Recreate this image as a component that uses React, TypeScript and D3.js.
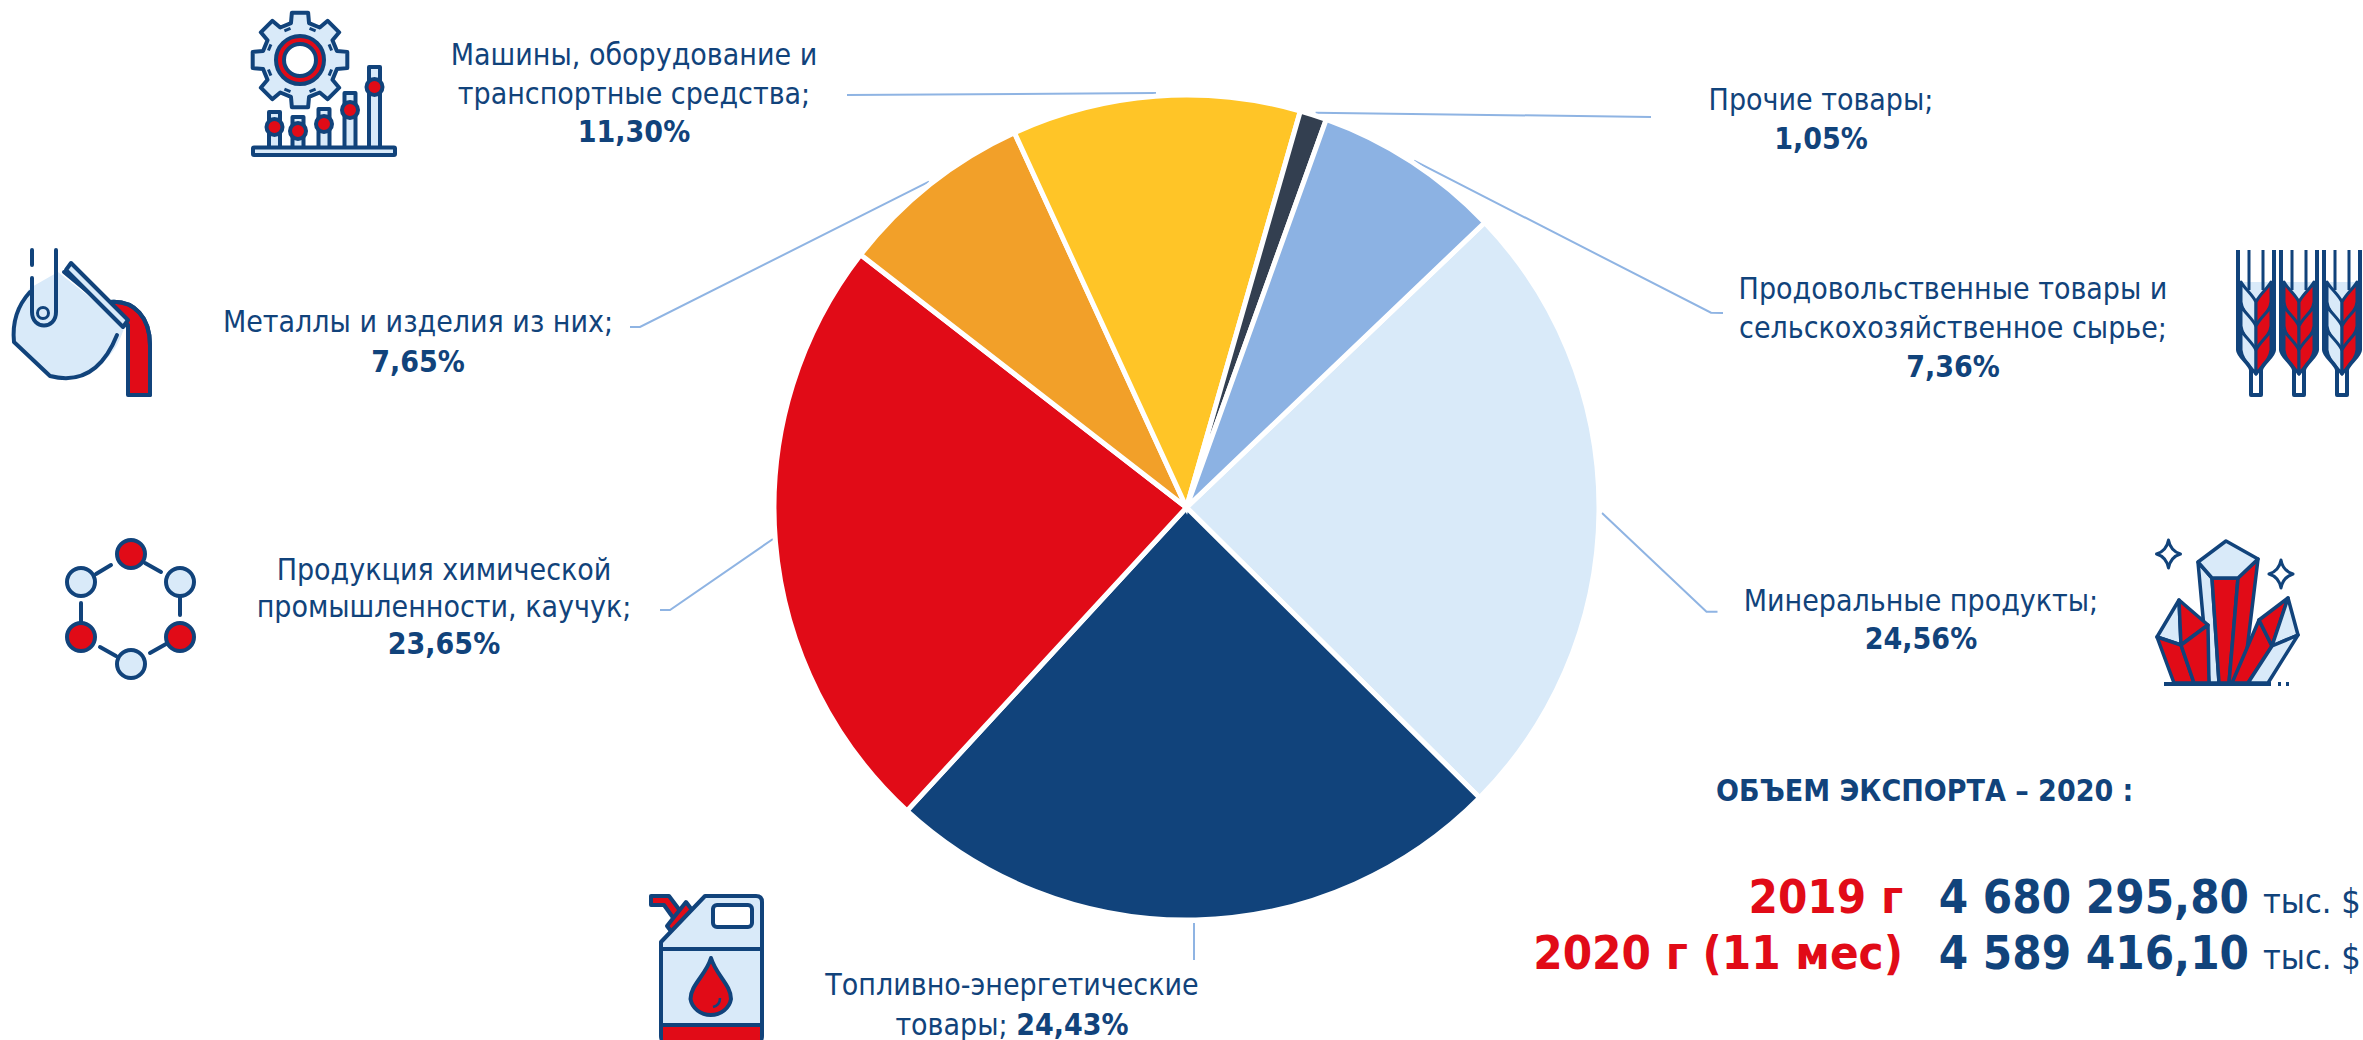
import React from "react";
import * as d3 from "d3";

const categories = [
  "Минеральные продукты",
  "Топливно-энергетические товары",
  "Продукция химической промышленности, каучук",
  "Металлы и изделия из них",
  "Машины, оборудование и транспортные средства",
  "Прочие товары",
  "Продовольственные товары и сельскохозяйственное сырье",
];
const shares = [24.56, 24.43, 23.65, 7.65, 11.3, 1.05, 7.36];
const sliceColors = ["#D9EAF9", "#11437B", "#E10B17", "#F2A029", "#FFC527", "#333F50", "#8CB2E3"];
const exportYears = ["2019 г", "2020 г (11 мес)"];
const exportValues = ["4 680 295,80", "4 589 416,10"];
const exportUnit = "тыс. $";
const exportTitle = "ОБЪЕМ ЭКСПОРТА – 2020 :";

const NAVY = "#11437B";
const RED = "#E10B17";
const PALE = "#D9EAF9";
const LINE = "#8FB4E3";
const FONT = "'DejaVu Sans', sans-serif";
const FS = 30;

const cx = 1186.5;
const cy = 507.5;
const radius = 412.5;
const startDeg = 46.3;

const pct = (v: number) => v.toFixed(2).replace(".", ",") + "%";

type P = [number, number];
const leaders: P[][] = [
  [[1602, 513], [1706.5, 611.7], [1717.5, 611.7]],
  [[1194, 923], [1194, 960]],
  [[773, 539], [670, 610], [660, 610]],
  [[929, 181.7], [640, 327], [630, 327]],
  [[1156, 93], [847, 95]],
  [[1315.6, 112.7], [1651, 117]],
  [[1414, 160.7], [1711, 312.7], [1723, 313]],
];

// label text lines per category, with the anchor centre and first baseline
const labelLines: string[][] = [
  ["Минеральные продукты;"],
  ["Топливно-энергетические"],
  ["Продукция химической", "промышленности, каучук;"],
  ["Металлы и изделия из них;"],
  ["Машины, оборудование и", "транспортные средства;"],
  ["Прочие товары;"],
  ["Продовольственные товары и", "сельскохозяйственное сырье;"],
];
const labelAnchor: { x: number; y: number; dy: number }[] = [
  { x: 1921, y: 611, dy: 38 },
  { x: 1012, y: 995, dy: 40 },
  { x: 444, y: 580, dy: 37 },
  { x: 418, y: 332, dy: 40 },
  { x: 634, y: 65, dy: 38.5 },
  { x: 1821, y: 110, dy: 39 },
  { x: 1953, y: 299, dy: 39 },
];

const condensed: React.CSSProperties = { fontStretch: "condensed" };

function Gear() {
  const c: P = [300, 60];
  const teeth = 8;
  const pts: P[] = [];
  for (let i = 0; i < teeth; i++) {
    const a = (i / teeth) * Math.PI * 2 - Math.PI / 2;
    const w = 0.17;
    const w2 = 0.21;
    const R = 48;
    const r = 38;
    [
      [a - w2 - 0.03, r],
      [a - w, R],
      [a + w, R],
      [a + w2 + 0.03, r],
    ].forEach(([t, q]) => pts.push([c[0] + q * Math.cos(t), c[1] + q * Math.sin(t)]));
  }
  const bars: [number, number, number][] = [
    [274.5, 112, 127],
    [298, 117, 131],
    [324, 109, 124],
    [350, 93, 110],
    [374.5, 67, 87],
  ];
  return (
    <g stroke={NAVY} strokeWidth={4} strokeLinejoin="round">
      <polygon points={pts.map((p) => p.join(",")).join(" ")} fill={PALE} />
      <circle cx={c[0]} cy={c[1]} r={24} fill={RED} />
      <circle cx={c[0]} cy={c[1]} r={20} fill={RED} stroke="none" />
      <circle cx={c[0]} cy={c[1]} r={16} fill="#fff" />
      {d3.range(8).map((i) => {
        const a = (i / 8) * Math.PI * 2 + Math.PI / 8;
        return (
          <line
            key={i}
            x1={c[0] + 33 * Math.cos(a - 0.1)}
            y1={c[1] + 33 * Math.sin(a - 0.1)}
            x2={c[0] + 33 * Math.cos(a + 0.1)}
            y2={c[1] + 33 * Math.sin(a + 0.1)}
            strokeWidth={3}
          />
        );
      })}
      {bars.map(([x, top, dot]) => (
        <g key={x}>
          <rect x={x - 5.5} y={top} width={11} height={148 - top} fill={PALE} />
          <circle cx={x} cy={dot} r={8} fill={RED} />
        </g>
      ))}
      <rect x={253} y={147.5} width={142} height={7.5} rx={1} fill={PALE} />
    </g>
  );
}

function Ladle() {
  return (
    <g stroke={NAVY} strokeWidth={4} strokeLinejoin="round" strokeLinecap="round">
      <path d="M110,302 C135,300 150,318 150,345 L150,395 L128,395 L128,327 Z" fill={RED} />
      <path d="M150,395 L150,345 C150,318 135,300 110,302" fill="none" />
      <line x1={128} y1={327} x2={128} y2={393} />
      <path d="M58,272 L125,325 C118,350 100,378 60,377 L52,377 L15,340 C12,320 20,300 30,288 Z" fill={PALE} stroke="none" />
      <path d="M64,272 L128,325" fill="none" />
      <path d="M30,292 C18,305 12,322 14,342 L50,376 C85,385 105,365 117,335" fill="none" />
      <path d="M32,250 L32,265 M32,278 L32,312 C32,330 56,330 56,312 L56,250" fill="none" />
      <circle cx={43} cy={313} r={5.5} fill="none" strokeWidth={3} />
      <path d="M66,270 L71,263 L128,320 L123,327 Z" fill={PALE} />
    </g>
  );
}

function Molecule() {
  const nodes: [number, number, string][] = [
    [131, 554, RED],
    [81, 582, PALE],
    [180, 582, PALE],
    [81, 637, RED],
    [180, 637, RED],
    [131, 664, PALE],
  ];
  const links = [
    [96, 574, 111, 565],
    [145, 563, 161, 572],
    [180, 597, 180, 615],
    [81, 603, 81, 622],
    [100, 647, 116, 656],
    [150, 653, 166, 644],
  ];
  return (
    <g stroke={NAVY} strokeWidth={4} strokeLinecap="round">
      {links.map((l, i) => (
        <line key={i} x1={l[0]} y1={l[1]} x2={l[2]} y2={l[3]} />
      ))}
      {nodes.map(([x, y, f], i) => (
        <circle key={i} cx={x} cy={y} r={14} fill={f} />
      ))}
    </g>
  );
}

function Can() {
  return (
    <g stroke={NAVY} strokeWidth={4} strokeLinejoin="round">
      <path d="M651,896 L669,896 L681,912 L674,919 L664,905 L651,905 Z" fill={RED} />
      <path d="M686,902 L692,910 L674,935 L667,926 Z" fill={RED} />
      <path d="M661,942 L705,896 L756,896 Q762,896 762,902 L762,1036 Q762,1042 756,1042 L667,1042 Q661,1042 661,1036 Z" fill={PALE} />
      <line x1={661} y1={949} x2={762} y2={949} />
      <rect x={663} y={1026} width={97} height={14} fill={RED} stroke="none" />
      <line x1={661} y1={1025} x2={762} y2={1025} />
      <rect x={713} y={905} width={39} height={22} rx={4} fill="#fff" />
      <path d="M711,958 C716,975 731,985 731,999 A20.5,19 0 0 1 690.5,999 C690.5,985 706,975 711,958 Z" fill={RED} />
      <path d="M720,998 C720,1004 717,1006 713,1007" fill="none" strokeWidth={2.5} />
    </g>
  );
}

function Ear({ x, leftRed }: { x: number; leftRed: boolean }) {
  const side = (sx: number, fill: string) => (
    <g key={sx}>
      {[0, 1, 2].map((k) => {
        const y = 286 + k * 24;
        return (
          <path
            key={k}
            d={`M${x},${y + 40} L${x},${y + 16} C${x + sx * 4},${y + 8} ${x + sx * 12},${y + 2} ${x + sx * 15},${y - 4} L${x + sx * 15},${y + 16} C${x + sx * 14},${y + 26} ${x + sx * 6},${y + 32} ${x},${y + 40} Z`}
            fill={fill}
          />
        );
      })}
    </g>
  );
  return (
    <g stroke={NAVY} strokeWidth={3} strokeLinejoin="round">
      <path d={`M${x - 18},282 L${x - 18},350 C${x - 18},356 ${x - 6},364 ${x - 5},372 L${x + 5},372 C${x + 6},364 ${x + 18},356 ${x + 18},350 L${x + 18},282`} fill={PALE} stroke="none" />
      {side(-1, leftRed ? RED : PALE)}
      {side(1, RED)}
      <path
        d={`M${x - 18},250 L${x - 18},350 C${x - 18},356 ${x - 6},364 ${x - 5},370 L${x - 5},395 L${x + 5},395 L${x + 5},370 C${x + 6},364 ${x + 18},356 ${x + 18},350 L${x + 18},250`}
        fill="none"
        strokeWidth={4}
      />
      <path d={`M${x - 7},250 L${x - 7},290 M${x + 7},250 L${x + 7},290`} fill="none" />
    </g>
  );
}

function Wheat() {
  return (
    <g>
      <Ear x={2256} leftRed={false} />
      <Ear x={2299} leftRed={true} />
      <Ear x={2342} leftRed={false} />
    </g>
  );
}

function Sparkle({ x, y }: { x: number; y: number }) {
  return (
    <path
      d={`M${x},${y - 14} Q${x + 2},${y - 3} ${x + 12},${y} Q${x + 2},${y + 3} ${x},${y + 14} Q${x - 2},${y + 3} ${x - 12},${y} Q${x - 2},${y - 3} ${x},${y - 14} Z`}
      fill="#fff"
      stroke={NAVY}
      strokeWidth={3}
    />
  );
}

function Crystal() {
  return (
    <g stroke={NAVY} strokeWidth={3.5} strokeLinejoin="round">
      <Sparkle x={2168.5} y={554} />
      <Sparkle x={2281} y={574} />
      <path d="M2198,562 L2209,683 L2219,683 L2212,578 Z" fill={PALE} />
      <path d="M2212,578 L2238,578 L2229,683 L2219,683 Z" fill={RED} />
      <path d="M2238,578 L2258,559 L2243,683 L2229,683 Z" fill={RED} />
      <path d="M2226,541 L2258,559 L2238,578 L2212,578 L2198,562 Z" fill={PALE} />
      <path d="M2179,600 L2181,645 L2157,637 Z" fill={PALE} />
      <path d="M2179,600 L2208,625 L2181,645 Z" fill={RED} />
      <path d="M2157,637 L2181,645 L2194,683 L2174,683 Z" fill={RED} />
      <path d="M2181,645 L2208,625 L2209,683 L2194,683 Z" fill={RED} />
      <path d="M2259,620 L2272,646 L2248,683 L2232,683 Z" fill={RED} />
      <path d="M2288,598 L2259,620 L2272,646 Z" fill={RED} />
      <path d="M2288,598 L2298,635 L2272,646 Z" fill={PALE} />
      <path d="M2272,646 L2298,635 L2268,683 L2248,683 Z" fill={PALE} />
      <line x1={2164} y1={684} x2={2271} y2={684} strokeWidth={4} />
      <line x1={2278} y1={684} x2={2281} y2={684} strokeWidth={4} />
      <line x1={2286} y1={684} x2={2289} y2={684} strokeWidth={4} />
    </g>
  );
}

export default function App() {
  const pie = d3
    .pie<number>()
    .sort(null)
    .startAngle((startDeg * Math.PI) / 180)
    .endAngle((startDeg * Math.PI) / 180 + Math.PI * 2);
  const arc = d3.arc<d3.PieArcDatum<number>>().innerRadius(0).outerRadius(radius);
  const arcs = pie(shares);
  const line = d3.line<P>();

  return (
    <svg
      width={2363}
      height={1040}
      viewBox="0 0 2363 1040"
      style={{ position: "absolute", left: 0, top: 0, background: "#fff" }}
      fontFamily={FONT}
    >
      {leaders.map((l, i) => (
        <path key={i} d={line(l) ?? ""} fill="none" stroke={LINE} strokeWidth={2} />
      ))}
      <g transform={`translate(${cx},${cy})`}>
        {arcs.map((a, i) => (
          <path key={categories[i]} d={arc(a) ?? ""} fill={sliceColors[i]} stroke="#fff" strokeWidth={5} strokeLinejoin="miter" />
        ))}
      </g>

      {labelLines.map((lines, i) => {
        const { x, y, dy } = labelAnchor[i];
        const isFuel = i === 1;
        return (
          <text key={i} textAnchor="middle" fontSize={FS} fill={NAVY} style={condensed}>
            {lines.map((t, k) => (
              <tspan key={k} x={x} y={y + k * dy}>
                {t}
              </tspan>
            ))}
            {isFuel ? (
              <tspan x={x} y={y + dy}>
                товары; <tspan fontWeight="bold">{pct(shares[i])}</tspan>
              </tspan>
            ) : (
              <tspan x={x} y={y + lines.length * dy} fontWeight="bold">
                {pct(shares[i])}
              </tspan>
            )}
          </text>
        );
      })}

      <text x={1716} y={801} fontSize={FS} fontWeight="bold" fill={NAVY} style={condensed}>
        {exportTitle}
      </text>
      {exportYears.map((yr, i) => {
        const y = i === 0 ? 913 : 969;
        return (
          <g key={yr} style={condensed}>
            <text x={1903} y={y} textAnchor="end" fontSize={47} fontWeight="bold" fill={RED}>
              {yr}
            </text>
            <text x={2249} y={y} textAnchor="end" fontSize={47} fontWeight="bold" fill={NAVY}>
              {exportValues[i]}
            </text>
            <text x={2263} y={y} fontSize={34} fill={NAVY}>
              {exportUnit}
            </text>
          </g>
        );
      })}

      <Gear />
      <Ladle />
      <Molecule />
      <Can />
      <Wheat />
      <Crystal />
    </svg>
  );
}
